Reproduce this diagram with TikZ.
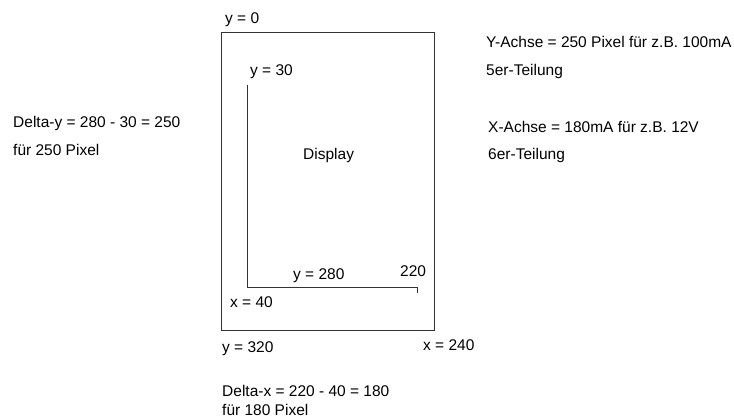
\documentclass[tikz,border=0pt]{standalone}
\usepackage{fontspec}
\setmainfont{Liberation Sans}
\begin{document}
\begin{tikzpicture}[x=1pt,y=-1pt,
	txt/.style={font=\fontsize{15.5}{18}\selectfont,anchor=west,inner sep=0pt},
	frame/.style={line width=1pt,draw=black!80}]
	\useasboundingbox (0,0) rectangle (734,419);
	% Display-Rahmen
	\coordinate (tl) at (221,33);
	\coordinate (br) at (434.5,331);
	\draw[frame] (tl) rectangle (br);
	\node[txt] (disp) at (303,155) {Display};
	% Achsen
	\coordinate (ytop) at (247,85);
	\coordinate (orig) at (247,288);
	\coordinate (xend) at (417,288);
	\coordinate (xtick) at (417,293);
	\draw[frame] (ytop) -- (orig) -- (xend) -- (xtick);
	% Beschriftung
	\node[txt] (y0) at (225,20) {y = 0};
	\node[txt] (y30) at (250,72) {y = 30};
	\node[txt] (y280) at (293,276) {y = 280};
	\node[txt] (x220) at (400,271) {220};
	\node[txt] (x40) at (230,302) {x = 40};
	\node[txt] (y320) at (222,349) {y = 320};
	\node[txt] (x240) at (423,345) {x = 240};
	\node[txt] (dy) at (13,123) {Delta-y = 280 - 30 = 250};
	\node[txt] (dyp) at (13,150) {für 250 Pixel};
	\node[txt] (ya) at (486,42) {Y-Achse = 250 Pixel für z.B. 100mA};
	\node[txt] (yt) at (486,71) {5er-Teilung};
	\node[txt] (xa) at (488,127) {X-Achse = 180mA für z.B. 12V};
	\node[txt] (xt) at (488,155) {6er-Teilung};
	\node[txt] (dx) at (222,391) {Delta-x = 220 - 40 = 180};
	\node[txt] (dxp) at (222,410) {für 180 Pixel};
\end{tikzpicture}
\end{document}
